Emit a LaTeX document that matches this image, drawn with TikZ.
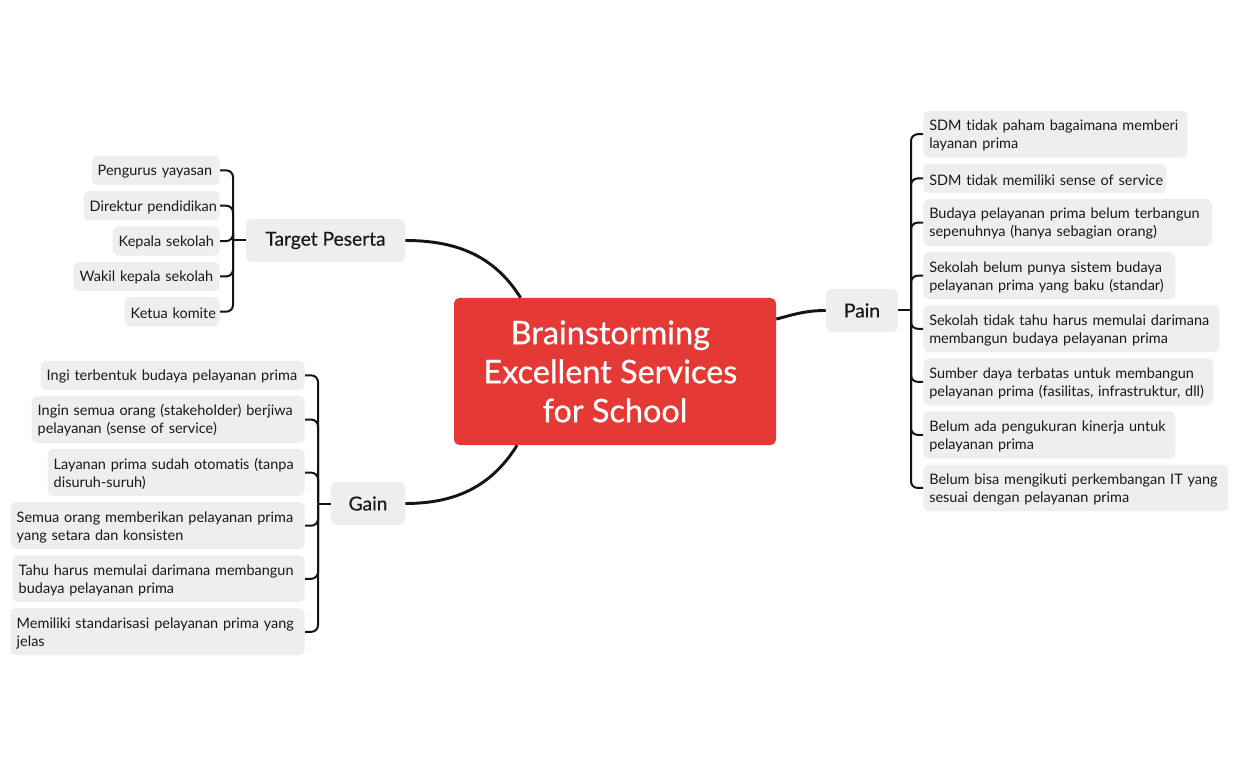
\documentclass[tikz,border=0pt]{standalone}
\usepackage{fontspec}
\setmainfont[Ligatures=NoCommon]{Lato}
\newfontfamily\heavyfont[FakeBold=0.6,Ligatures=NoCommon]{Lato}
\newfontfamily\mediumfont[FakeBold=0.3,Ligatures=NoCommon]{Lato}
\usetikzlibrary{positioning}
\definecolor{mapred}{HTML}{E53935}
\definecolor{leafgray}{HTML}{EEEEEE}
\definecolor{inkline}{HTML}{141414}
\tikzset{
  x=0.75pt, y=-0.75pt,
  mainidea/.style={
    fill=mapred, text=white, rounded corners=4pt, align=center,
    minimum width=241.5pt, minimum height=110.25pt,
    font=\heavyfont\fontsize{24.3}{29.25}\selectfont
  },
  topic/.style={
    fill=leafgray, text=black!90, rounded corners=4pt,
    minimum height=32.25pt, inner xsep=0pt,
    font=\mediumfont\fontsize{14.4}{16}\selectfont
  },
  leaf/.style={
    fill=leafgray, text=black!90, rounded corners=4pt, align=left,
    text width=#1, inner xsep=4.5pt, inner ysep=2pt, minimum height=21.9pt,
    font=\fontsize{10.85}{13.5}\selectfont,
    execute at begin node={\leavevmode\rule{0pt}{10pt}}
  },
  tall/.style={minimum height=35.2pt},
  bigline/.style={draw=inkline, line width=2.2pt},
  branch/.style={draw=inkline, line width=1.5pt, rounded corners=5pt}
}

\begin{document}
\begin{tikzpicture}
    \useasboundingbox (0,0) rectangle (1238,766);

    \node[mainidea] (main) at (615,371.5) {\hbox{Brainstorming\kern7pt}\\\hbox{Excellent Services\kern7pt}\\for School};

    \node[topic, minimum width=119.25pt] (target) at (325.5,240.5) {Target Peserta};
    \node[topic, minimum width=55.5pt] (gain) at (368,503.5) {Gain};
    \node[topic, minimum width=54pt] (pain) at (862,310.5) {Pain};

    % target peserta
    \node[leaf=87pt, anchor=north east] (peserta1) at (220,155.5) {\mbox{Pengurus yayasan}};
    \node[leaf=93pt, below=4.2pt of peserta1.south east, anchor=north east] (peserta2) {\mbox{Direktur pendidikan}};
    \node[leaf=71.25pt, below=4.2pt of peserta2.south east, anchor=north east] (peserta3) {\mbox{Kepala sekolah}};
    \node[leaf=100.5pt, below=4.2pt of peserta3.south east, anchor=north east] (peserta4) {\mbox{Wakil kepala sekolah}};
    \node[leaf=62.25pt, below=4.2pt of peserta4.south east, anchor=north east] (peserta5) {\mbox{Ketua komite}};

    % gain
    \node[leaf=189pt, anchor=north east] (gain1) at (305,360.5) {\mbox{Ingi terbentuk budaya pelayanan prima}};
    \node[leaf=195.75pt, tall, below=4.2pt of gain1.south east, anchor=north east] (gain2) {\mbox{Ingin semua orang (stakeholder) berjiwa}\\pelayanan (sense of service)};
    \node[leaf=183.75pt, tall, below=4.2pt of gain2.south east, anchor=north east] (gain3) {\mbox{Layanan prima sudah otomatis (tanpa}\\disuruh-suruh)};
    \node[leaf=211.5pt, tall, below=4.2pt of gain3.south east, anchor=north east] (gain4) {\mbox{Semua orang memberikan pelayanan prima}\\yang setara dan konsisten};
    \node[leaf=210pt, tall, below=4.2pt of gain4.south east, anchor=north east] (gain5) {\mbox{Tahu harus memulai darimana membangun}\\budaya pelayanan prima};
    \node[leaf=211.5pt, tall, below=4.2pt of gain5.south east, anchor=north east] (gain6) {\mbox{Memiliki standarisasi pelayanan prima yang}\\jelas};

    % pain
    \node[leaf=189pt, tall, anchor=north west] (pain1) at (923,110.5) {\mbox{SDM tidak paham bagaimana memberi}\\layanan prima};
    \node[leaf=173.25pt, below=4.2pt of pain1.south west, anchor=north west] (pain2) {\mbox{SDM tidak memiliki sense of service}};
    \node[leaf=207.75pt, tall, below=4.2pt of pain2.south west, anchor=north west] (pain3) {\mbox{Budaya pelayanan prima belum terbangun}\\sepenuhnya (hanya sebagian orang)};
    \node[leaf=180pt, tall, below=4.2pt of pain3.south west, anchor=north west] (pain4) {\mbox{Sekolah belum punya sistem budaya}\\\mbox{pelayanan prima yang baku (standar)}};
    \node[leaf=213pt, tall, below=4.2pt of pain4.south west, anchor=north west] (pain5) {\mbox{Sekolah tidak tahu harus memulai darimana}\\membangun budaya pelayanan prima};
    \node[leaf=208.5pt, tall, below=4.2pt of pain5.south west, anchor=north west] (pain6) {\mbox{Sumber daya terbatas untuk membangun}\\\mbox{pelayanan prima (fasilitas, infrastruktur, dll)}};
    \node[leaf=180pt, tall, below=4.2pt of pain6.south west, anchor=north west] (pain7) {\mbox{Belum ada pengukuran kinerja untuk}\\pelayanan prima};
    \node[leaf=219.75pt, tall, below=4.2pt of pain7.south west, anchor=north west] (pain8) {\mbox{Belum bisa mengikuti perkembangan IT yang}\\sesuai dengan pelayanan prima};

    \coordinate (targethub) at (233,240.5);
    \coordinate (gainhub) at (318,503.5);
    \coordinate (painhub) at (911,310.5);

    \draw[bigline] (target.east) to[out=0, in=122] (main.142.3);
    \draw[bigline] (gain.east) to[out=0, in=-122] (main.217.7);
    \draw[bigline] (pain.west) to[out=180, in=15] (main.18.3);

    \foreach \i in {1,...,5} \draw[branch] (peserta\i.east) -| (targethub);
    \foreach \i in {1,...,6} \draw[branch] (gain\i.east) -| (gainhub);
    \foreach \i in {1,...,8} \draw[branch] (pain\i.west) -| (painhub);
    \draw[branch] (targethub) -- (target.west);
    \draw[branch] (gainhub) -- (gain.west);
    \draw[branch] (painhub) -- (pain.east);
\end{tikzpicture}
\end{document}
